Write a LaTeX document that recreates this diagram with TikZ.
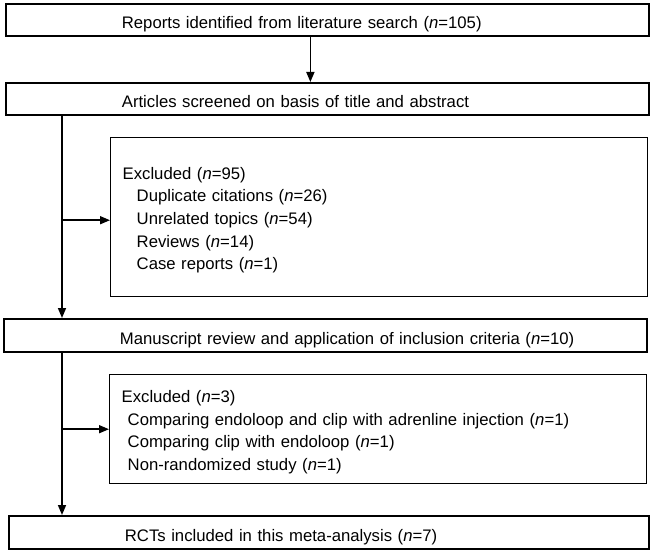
\documentclass[tikz,border=0pt]{standalone}
\usepackage{fontspec}
\setmainfont{Liberation Sans}
\usetikzlibrary{calc,arrows.meta,positioning}

\begin{document}
\begin{tikzpicture}[x=1pt,y=-1pt,
		font=\fontsize{16.7}{22.7}\selectfont,
		mainbox/.style={draw,line width=1.8pt,anchor=north west,text width=#1,minimum height=32pt,text height=22pt,text depth=4pt,inner xsep=0pt,inner ysep=0pt,align=left,execute at begin node={\hspace*{116pt}}},
		exclbox/.style={draw,line width=1.4pt,anchor=north west,text width=513pt,text height=18pt,inner xsep=12pt,inner ysep=0pt,align=left},
		arr/.style={line width=1.6pt,-{Triangle[length=10pt,width=8pt]}}]
				\useasboundingbox (0,0) rectangle (653,551);

				\node[mainbox=643pt] (rep) at (5,3) {Reports identified from literature search (\textit{n}=105)};
				\node[mainbox=643pt] (scr) at (5,82) {Articles screened on basis of title and abstract};
				\node[exclbox,minimum height=159pt] (exa) at (110,137) {Excluded (\textit{n}=95)\\
					\hspace*{14pt}Duplicate citations (\textit{n}=26)\\
					\hspace*{14pt}Unrelated topics (\textit{n}=54)\\
					\hspace*{14pt}Reviews (\textit{n}=14)\\
					\hspace*{14pt}Case reports (\textit{n}=1)};
				\node[mainbox=643pt,minimum height=33pt] (man) at (3,318) {Manuscript review and application of inclusion criteria (\textit{n}=10)};
				\node[exclbox,minimum height=109pt] (exb) at (109,374) {Excluded (\textit{n}=3)\\
					\hspace*{6pt}Comparing endoloop and clip with adrenline injection (\textit{n}=1)\\
					\hspace*{6pt}Comparing clip with endoloop (\textit{n}=1)\\
					\hspace*{6pt}Non-randomized study (\textit{n}=1)};
				\node[mainbox=640pt,minimum height=33pt] (rct) at (8,515) {RCTs included in this meta-analysis (\textit{n}=7)};

				\draw[arr] ([xshift=-17pt]rep.south) -- ([xshift=-17pt]scr.north);

				\coordinate (s1) at ([xshift=57pt]scr.south west);
				\draw[arr] (s1) -- (s1 |- man.north);
				\draw[arr] ([yshift=-3pt]s1 |- exa.west) -- ([yshift=-3pt]exa.west);

				\coordinate (s2) at ([xshift=59pt]man.south west);
				\draw[arr] (s2) -- (s2 |- rct.north);
				\draw[arr] (s2 |- exb.west) -- (exb.west);
			\end{tikzpicture}
\end{document}
